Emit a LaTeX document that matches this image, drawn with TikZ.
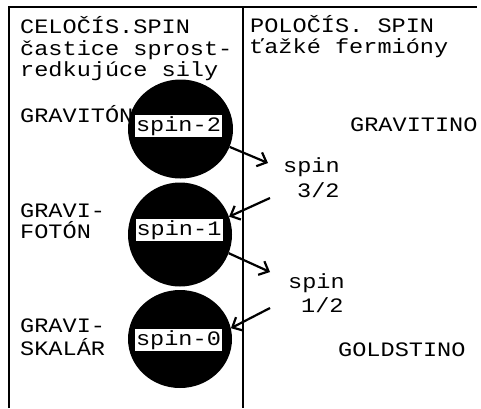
\documentclass[tikz,border=0pt]{standalone}
\usepackage{fontspec}
\usetikzlibrary{arrows.meta,shapes.geometric}
\newfontfamily\plotfont{Liberation Mono}
\newcommand\wide[1]{\scalebox{1.15}[1]{#1}}
\begin{document}
\begin{tikzpicture}[x=1pt,y=-1pt,
  txt/.style={anchor=base west,inner sep=0pt,font=\plotfont\fontsize{20.5}{24}\selectfont},
  ball/.style={ellipse,fill=black,draw=none,inner sep=0pt},
  lbl/.style={fill=white,inner sep=0pt,minimum width=87pt,minimum height=22pt,font=\plotfont\fontsize{20.5}{24}\selectfont},
  frame/.style={line width=2.4pt},
  arr/.style={line width=2.2pt,-{Straight Barb[length=8pt,width=15pt,line width=2.2pt]}}
]
\useasboundingbox (0,0) rectangle (481,408);
% left column text
\node[txt] (l1) at (20,33) {\wide{CELOČÍS.SPIN}};
\node[txt] (l2) at (20,55) {\wide{častice sprost-}};
\node[txt] (l3) at (20,76) {\wide{redkujúce sily}};
\node[txt] (l4) at (20,122) {\wide{GRAVITÓN}};
\node[txt] (l5) at (20,217) {\wide{GRAVI-}};
\node[txt] (l6) at (20,238) {\wide{FOTÓN}};
\node[txt] (l7) at (20,332) {\wide{GRAVI-}};
\node[txt] (l8) at (20,355) {\wide{SKALÁR}};
% right column text
\node[txt] (r1) at (250,32) {\wide{POLOČÍS. SPIN}};
\node[txt] (r2) at (250,53) {\wide{ťažké fermióny}};
\node[txt] (r3) at (350,131) {\wide{GRAVITINO}};
\node[txt] (r4) at (338,356) {\wide{GOLDSTINO}};
\node[txt] (s3a) at (283,172) {\wide{spin}};
\node[txt] (s3b) at (297,197) {\wide{3/2}};
\node[txt] (s1a) at (288,288) {\wide{spin}};
\node[txt] (s1b) at (301,312) {\wide{1/2}};
% balls
\node[ball,minimum width=105pt,minimum height=99pt] (c2) at (180.5,129) {};
\node[ball,minimum width=104pt,minimum height=104pt] (c1) at (180,234.5) {};
\node[ball,minimum width=104pt,minimum height=98pt] (c0) at (180,339) {};
\node[lbl] (t2) at (178.5,126) {\wide{spin-2}};
\node[lbl] (t1) at (179,230) {\wide{spin-1}};
\node[lbl] (t0) at (178.5,340) {\wide{spin-0}};
% frame
\coordinate (tl) at (9,7);
\coordinate (tr) at (477,7);
\coordinate (bl) at (9,408);
\coordinate (dt) at (243,7);
\coordinate (db) at (243,408);
\draw[frame] (bl) -- (tl) -- (tr);
\draw[frame] (dt) -- (db);
% arrows
\coordinate (e1) at (268,163);
\coordinate (b2) at (270,198);
\coordinate (e3) at (270,272);
\coordinate (b4) at (270,308);
\draw[arr] (c2.-20) -- (e1);
\draw[arr] (b2) -- (c1.20);
\draw[arr] (c1.-21) -- (e3);
\draw[arr] (b4) -- (c0.12);
\end{tikzpicture}
\end{document}
